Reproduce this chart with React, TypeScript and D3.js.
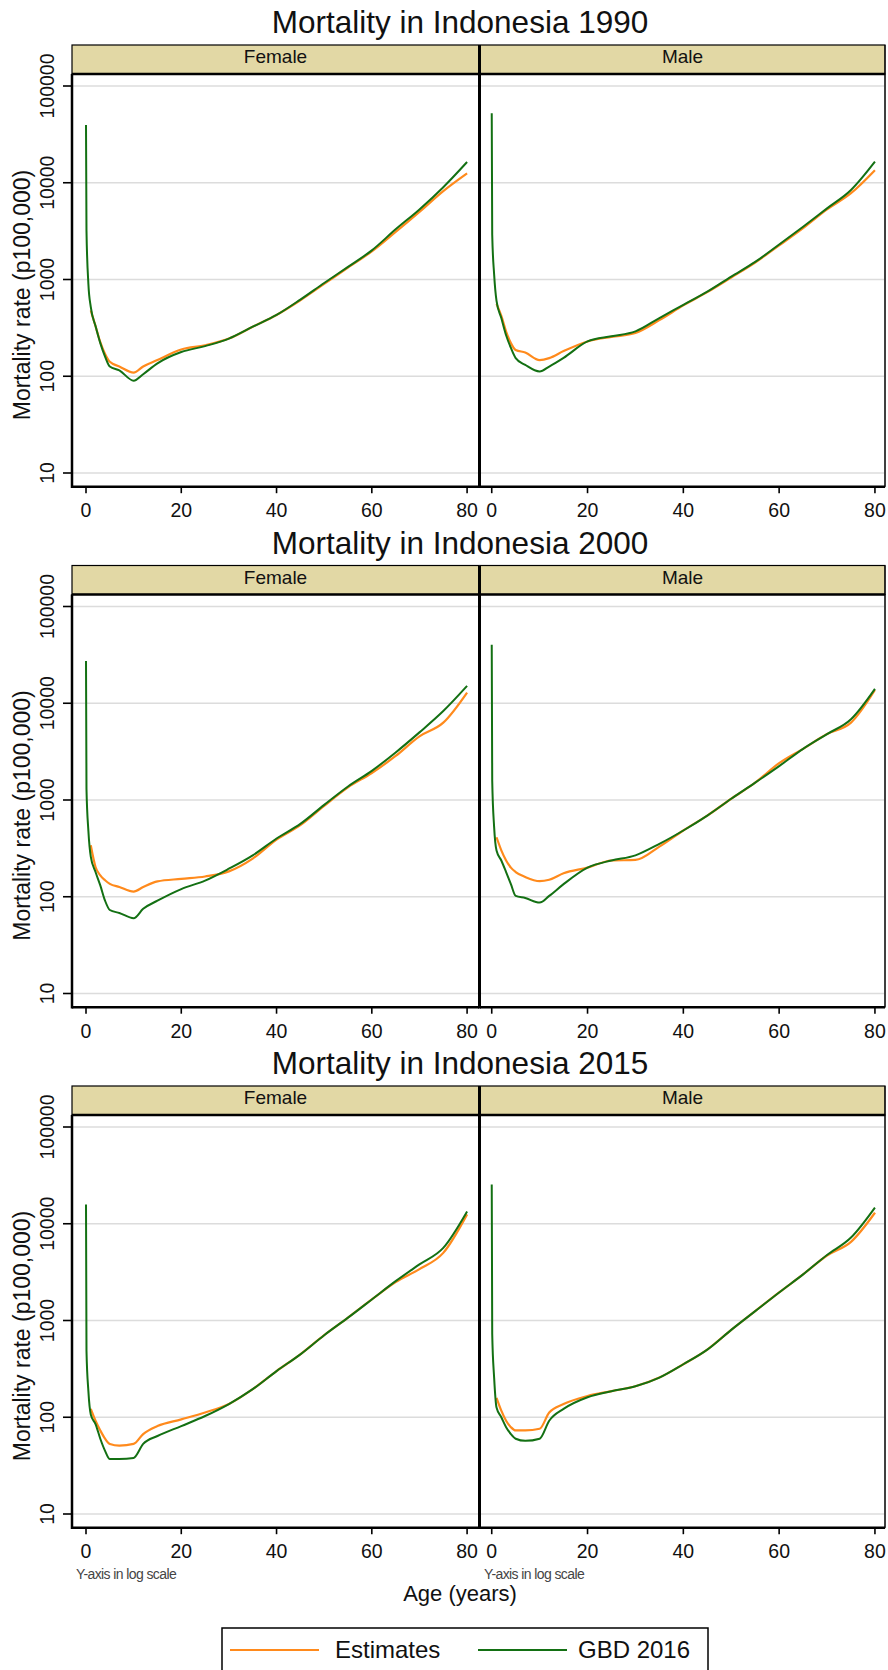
import React from 'react';
import * as d3 from 'd3';

// ---------- data ----------
const years = ['1990', '2000', '2015'];
const sexes = ['Female', 'Male'];
const ageTicks = [0, 20, 40, 60, 80];
const rateTicks = [10, 100, 1000, 10000, 100000];
const rateTickLabels = ['10', '100', '1000', '10000', '100000'];

const estAges = [1, 2, 3, 4, 5, 7, 10, 12, 15, 20, 25, 30, 35, 40, 45, 50, 55, 60, 65, 70, 75, 80];
const gbdAges = [0, 0.1, 0.5, 1, 2, 3, 4, 5, 7, 10, 12, 15, 20, 25, 30, 35, 40, 45, 50, 55, 60, 65, 70, 75, 80];

const est1990F = [480, 330, 225, 170, 141, 126, 109, 126, 147, 189, 209, 245, 325, 430, 610, 900, 1330, 1950, 3100, 5000, 8200, 12500];
const gbd1990F = [39500, 3200, 900, 520, 330, 220, 160, 126, 115, 90, 105, 136, 178, 205, 245, 325, 430, 620, 920, 1350, 2000, 3300, 5300, 9000, 16400];
const est1990M = [560, 420, 290, 220, 187, 176, 147, 154, 182, 229, 255, 280, 380, 540, 740, 1050, 1500, 2250, 3400, 5300, 7800, 13500];
const gbd1990M = [52300, 2900, 1130, 600, 400, 265, 196, 154, 131, 112, 126, 155, 229, 259, 291, 400, 546, 748, 1070, 1520, 2300, 3510, 5430, 8410, 16500];

const est2000F = [340, 203, 166, 148, 136, 126, 113, 126, 144, 153, 162, 183, 248, 390, 550, 870, 1350, 1900, 2850, 4550, 6300, 12900];
const gbd2000F = [27300, 1300, 480, 260, 180, 131, 91, 73, 68, 60, 75, 91, 120, 147, 195, 268, 400, 566, 890, 1380, 2000, 3100, 5000, 8300, 15100];
const est2000M = [412, 302, 237, 200, 180, 160, 145, 150, 175, 200, 237, 240, 330, 484, 690, 1030, 1510, 2400, 3380, 4800, 6300, 13700];
const gbd2000M = [40300, 1580, 525, 300, 237, 180, 135, 102, 97, 87, 102, 135, 200, 237, 268, 352, 484, 690, 1030, 1510, 2240, 3380, 4800, 6840, 14100];

const est2015F = [122, 92, 73, 60, 53, 51, 53, 67, 81, 95, 112, 137, 195, 300, 447, 705, 1070, 1650, 2500, 3400, 5000, 12500];
const gbd2015F = [15800, 486, 186, 107, 85, 60, 45, 37, 37, 38, 53, 64, 81, 103, 137, 195, 300, 447, 705, 1070, 1650, 2550, 3800, 5630, 13400];
const est2015M = [159, 117, 92, 79, 73, 73, 76, 112, 137, 166, 186, 209, 257, 353, 500, 800, 1250, 1950, 3000, 4700, 6500, 13000];
const gbd2015M = [25500, 725, 257, 126, 100, 79, 67, 60, 57, 60, 92, 122, 161, 186, 209, 257, 353, 500, 800, 1250, 1950, 3000, 4750, 7200, 14700];

const estimates = [[est1990F, est1990M], [est2000F, est2000M], [est2015F, est2015M]];
const gbd = [[gbd1990F, gbd1990M], [gbd2000F, gbd2000M], [gbd2015F, gbd2015M]];

const legendLabels = ['Estimates', 'GBD 2016'];

// ---------- styling / layout ----------
const W = 888;
const H = 1670;
const FONT = '"Liberation Sans", Arial, Helvetica, sans-serif';
const ORANGE = '#ff8a1c';
const GREEN = '#137013';
const STRIP = '#e2d8a5';
const GRID = '#dcdcdc';
const PANEL_DY = 520.5;
const panelX = [
  { x0: 72, x1: 479, d0: -2.94, d1: 82.5 },
  { x0: 480, x1: 885, d0: -2.45, d1: 82.1 },
];
const STRIP_TOP = 45;
const STRIP_BOT = 74;
const PLOT_BOT = 486.7;

function Panel({ yi, si }: { yi: number; si: number }) {
  const oy = yi * PANEL_DY;
  const px = panelX[si];
  const x = d3.scaleLinear().domain([px.d0, px.d1]).range([px.x0, px.x1]);
  const y = d3.scaleLog().domain([10, 100000]).range([473 + oy, 86 + oy]);
  const line = d3
    .line<[number, number]>()
    .x((d) => x(d[0]))
    .y((d) => y(d[1]))
    .curve(d3.curveMonotoneX);
  const est: [number, number][] = estAges.map((a, i) => [a, estimates[yi][si][i]]);
  const gb: [number, number][] = gbdAges.map((a, i) => [a, gbd[yi][si][i]]);
  const plotBot = PLOT_BOT + oy;
  return (
    <g>
      {/* strip */}
      <rect x={px.x0} y={STRIP_TOP + oy} width={px.x1 - px.x0} height={STRIP_BOT - STRIP_TOP} fill={STRIP} stroke="#000" strokeWidth={1.2} />
      <text x={(px.x0 + px.x1) / 2} y={63 + oy} textAnchor="middle" fontSize={19} fontFamily={FONT} fill="#111">
        {sexes[si]}
      </text>
      {/* plot region */}
      <rect x={px.x0} y={STRIP_BOT + oy} width={px.x1 - px.x0} height={plotBot - STRIP_BOT - oy} fill="#fff" stroke="#000" strokeWidth={1} />
      {rateTicks.map((t) => (
        <line key={t} x1={px.x0 + 1} x2={px.x1 - 1} y1={y(t)} y2={y(t)} stroke={GRID} strokeWidth={1.5} />
      ))}
      <path d={line(est) || ''} fill="none" stroke={ORANGE} strokeWidth={2.2} strokeLinejoin="round" />
      <path d={line(gb) || ''} fill="none" stroke={GREEN} strokeWidth={2} strokeLinejoin="round" />
      {/* axes */}
      <line x1={px.x0} x2={px.x1} y1={plotBot} y2={plotBot} stroke="#000" strokeWidth={2.5} />
      <line x1={px.x0} x2={px.x1} y1={STRIP_BOT + oy} y2={STRIP_BOT + oy} stroke="#000" strokeWidth={2.5} />
      {si === 0 && (
        <line x1={px.x0} x2={px.x0} y1={STRIP_BOT + oy} y2={plotBot + 1.2} stroke="#000" strokeWidth={2.5} />
      )}
      {si === 1 && (
        <line x1={px.x1} x2={px.x1} y1={STRIP_TOP + oy} y2={plotBot} stroke="#000" strokeWidth={1} />
      )}
      {ageTicks.map((a) => (
        <g key={a}>
          <line x1={x(a)} x2={x(a)} y1={plotBot} y2={plotBot + 6.5} stroke="#000" strokeWidth={1.6} />
          <text x={x(a)} y={517 + oy} textAnchor="middle" fontSize={19.5} fontFamily={FONT} fill="#111">
            {a}
          </text>
        </g>
      ))}
      {si === 0 &&
        rateTicks.map((t, i) => (
          <g key={t}>
            <line x1={63} x2={px.x0} y1={y(t)} y2={y(t)} stroke="#000" strokeWidth={1.6} />
            <text
              transform={`translate(54,${y(t)}) rotate(-90)`}
              textAnchor="middle"
              fontSize={19.5}
              fontFamily={FONT}
              fill="#111"
            >
              {rateTickLabels[i]}
            </text>
          </g>
        ))}
    </g>
  );
}

export default function App() {
  return (
    <svg
      width={W}
      height={H}
      viewBox={`0 0 ${W} ${H}`}
      style={{ position: 'absolute', left: 0, top: 0, display: 'block', background: '#fff' }}
    >
      <rect x={0} y={0} width={W} height={H} fill="#fff" />
      {years.map((yr, yi) => {
        const oy = yi * PANEL_DY;
        return (
          <g key={yr}>
            <text x={460} y={33 + oy} textAnchor="middle" fontSize={31.5} fontFamily={FONT} fill="#111">
              {`Mortality in Indonesia ${yr}`}
            </text>
            <text
              transform={`translate(30,${295 + oy}) rotate(-90)`}
              textAnchor="middle"
              fontSize={23}
              fontFamily={FONT}
              fill="#111"
            >
              Mortality rate (p100,000)
            </text>
            {sexes.map((s, si) => (
              <Panel key={s} yi={yi} si={si} />
            ))}
            {/* separator between the panels */}
            <line x1={479.5} x2={479.5} y1={STRIP_TOP + oy} y2={PLOT_BOT + oy + 1.2} stroke="#000" strokeWidth={3} />
          </g>
        );
      })}
      {/* bottom notes */}
      {panelX.map((p, i) => (
        <text key={i} x={p.x0 + 4} y={1579} fontSize={14} fontFamily={FONT} fill="#444" letterSpacing={-0.6}>
          Y-axis in log scale
        </text>
      ))}
      <text x={460} y={1601} textAnchor="middle" fontSize={22} fontFamily={FONT} fill="#111">
        Age (years)
      </text>
      {/* legend */}
      <rect x={222} y={1628} width={486} height={44} fill="#fff" stroke="#000" strokeWidth={1.5} />
      <line x1={230} x2={319} y1={1650} y2={1650} stroke={ORANGE} strokeWidth={2} />
      <text x={335} y={1657.5} fontSize={24} fontFamily={FONT} fill="#111">
        {legendLabels[0]}
      </text>
      <line x1={478} x2={567} y1={1650} y2={1650} stroke={GREEN} strokeWidth={2} />
      <text x={578} y={1657.5} fontSize={24} fontFamily={FONT} fill="#111">
        {legendLabels[1]}
      </text>
    </svg>
  );
}
